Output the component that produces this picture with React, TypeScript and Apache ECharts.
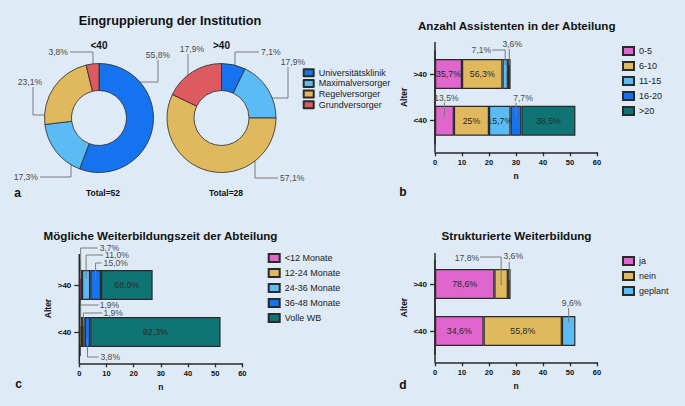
import { useEffect, useRef } from 'react';
import * as echarts from 'echarts';

const FONT = '"Liberation Sans", Arial, Helvetica, sans-serif';

// ---------- Data ----------
// Panel a
const instNames = ['Universitätsklinik', 'Maximalversorger', 'Regelversorger', 'Grundversorger'];
const instLt40 = [55.8, 17.3, 23.1, 3.8];
const instGt40 = [7.1, 17.9, 57.1, 17.9];
const instLabelsLt40 = ['55,8%', '17,3%', '23,1%', '3,8%'];
const instLabelsGt40 = ['7,1%', '17,9%', '57,1%', '17,9%'];
const pieGroups = ['<40', '>40'];
const pieTotals = ['Total=52', 'Total=28'];

const ageCats = ['<40', '>40'];
const xTickMin = 0;
const xTickMax = 60;
const xTickStep = 10;

// Panel b
const asstNames = ['0-5', '6-10', '11-15', '16-20', '>20'];
const asstLt40 = [7, 13, 8, 4, 20];
const asstGt40 = [10, 15, 2, 0, 1];
const asstLabelsLt40 = ['13,5%', '25%', '15,7%', '7,7%', '38,5%'];
const asstLabelsGt40 = ['35,7%', '56,3%', '7,1%', '', '3,6%'];

// Panel c
const wbNames = ['<12 Monate', '12-24 Monate', '24-36 Monate', '36-48 Monate', 'Volle WB'];
const wbLt40 = [0, 1, 1, 2, 48];
const wbGt40 = [1, 0, 3, 4, 19];
const wbLabelsLt40 = ['', '1,9%', '1,9%', '3,8%', '92,3%'];
const wbLabelsGt40 = ['3,7%', '', '11,0%', '15,0%', '68,0%'];

// Panel d
const swbNames = ['ja', 'nein', 'geplant'];
const swbLt40 = [18, 29, 5];
const swbGt40 = [22, 5, 1];
const swbLabelsLt40 = ['34,6%', '55,8%', '9,6%'];
const swbLabelsGt40 = ['78,6%', '17,8%', '3,6%'];

const titles = [
  'Eingruppierung der Institution',
  'Anzahl Assistenten in der Abteilung',
  'Mögliche Weiterbildungszeit der Abteilung',
  'Strukturierte Weiterbildung',
];
const panelLetters = ['a', 'b', 'c', 'd'];

// ---------- Styles / layout ----------
const PINK = '#de66cc';
const GOLD = '#e0b95e';
const LBLUE = '#5bbcf5';
const BLUE = '#1673f0';
const TEAL = '#0f7574';
const RED = '#dc5a60';
const EDGE = '#2a2a2a';
const LEAD = '#7a7a7a';
const LABEL = '#4a4a4a';
const INK = '#111';

const instColors = [BLUE, LBLUE, GOLD, RED];
const barColors5 = [PINK, GOLD, LBLUE, BLUE, TEAL];
const barColors3 = [PINK, GOLD, LBLUE];

const PIE_CENTERS = [[99, 118], [221.5, 118]];
const PIE_RADIUS = [27.5, 54.5];
const PIE_LABEL_LAYOUT = [
  [
    { pts: [[28, -36], [59, -36], [59, -58]], lab: [59, -63], align: 'center' },
    { pts: [[-28, 29], [-28, 59], [-59, 59]], lab: [-61, 59], align: 'right' },
    { pts: [[-42, -3], [-66, -3], [-66, -31]], lab: [-69, -36], align: 'center' },
    { pts: [[-6, -45], [-6, -66], [-29, -66]], lab: [-31, -66], align: 'right' },
  ],
  [
    { pts: [[13.5, -43], [13.5, -66], [37.5, -66]], lab: [39.5, -66], align: 'left' },
    { pts: [[38.5, -20], [66.5, -20], [66.5, -51]], lab: [71.5, -56], align: 'center' },
    { pts: [[33.5, 29], [33.5, 60], [56.5, 60]], lab: [58.5, 60], align: 'left' },
    { pts: [[-9.5, -41], [-33.5, -41], [-33.5, -64]], lab: [-29.5, -69], align: 'center' },
  ],
];

// Outside (leader) labels per panel: key "categoryIndex|seriesIndex"
const B_OUT = {
  '1|2': { pts: [[0, -9], [0, -24], [-13, -24]], lab: [-14, -24], align: 'right' },
  '1|4': { pts: [[0, -9], [0, -25]], lab: [3, -30], align: 'center' },
  '0|0': { pts: [[0, -4], [0, -18]], lab: [2, -23], align: 'center' },
  '0|3': { pts: [[0, -4], [0, -18]], lab: [7, -23], align: 'center' },
};
const C_OUT = {
  '1|0': { pts: [[0, -6], [0, -37], [17, -37]], lab: [19, -37], align: 'left' },
  '1|2': { pts: [[0, -6], [0, -30], [17, -30]], lab: [19, -30], align: 'left' },
  '1|3': { pts: [[0, -6], [0, -22], [6, -22]], lab: [8, -22], align: 'left' },
  '0|1': { pts: [[0, -6], [0, -27], [18, -27]], lab: [19, -27], align: 'left' },
  '0|2': { pts: [[0, -6], [0, -19], [19, -19]], lab: [20, -19], align: 'left' },
  '0|3': { pts: [[0, 6], [0, 25], [11, 25]], lab: [13, 25], align: 'left' },
};
const D_OUT = {
  '1|1': { pts: [[0, 1], [0, -27], [-21, -27]], lab: [-22, -26], align: 'right' },
  '1|2': { pts: [[0, -4], [0, -22]], lab: [4, -28], align: 'center' },
  '0|2': { pts: [[0, -8], [0, -23]], lab: [3, -28], align: 'center' },
};

const GRIDS = [
  { left: 435, right: 88, top: 50.65, bottom: 261.95, xOff: 8.25, spineTop: 42 },
  { left: 79.3, right: 442.7, top: 261.5, bottom: 50.5, xOff: 7.8, spineTop: 254 },
  { left: 435, right: 88, top: 260.5, bottom: 51.5, xOff: 7.8, spineTop: 253 },
];
const H = 406;

function txt(text: string, x: number, y: number, size: number, bold: boolean, align = 'center', color = INK) {
  return {
    type: 'text',
    x,
    y,
    silent: true,
    style: {
      text,
      font: `${bold ? 'bold ' : ''}${size}px ${FONT}`,
      fill: color,
      align,
      verticalAlign: 'middle',
      textAlign: align,
      textVerticalAlign: 'middle',
    },
  };
}

function barSeries(names: string[], lt: number[], gt: number[], labLt: string[], labGt: string[], colors: string[], gi: number, out: any) {
  return names.map((name, si) => ({
    type: 'bar',
    name,
    stack: 'g' + gi,
    xAxisIndex: gi,
    yAxisIndex: gi,
    barWidth: 30,
    itemStyle: { color: colors[si], borderColor: EDGE, borderWidth: 1.2 },
    label: { show: false, position: 'inside', color: '#2a2a2a', fontSize: 8.8, fontFamily: FONT },
    emphasis: { disabled: true },
    data: [lt[si], gt[si]].map((v, ci) => {
      const text = [labLt, labGt][ci][si];
      const inside = text !== '' && !out[`${ci}|${si}`];
      return { value: v === 0 ? '-' : v, label: { show: inside, formatter: text } };
    }),
  }));
}

function annoSeries(lt: number[], gt: number[], labLt: string[], labGt: string[], gi: number, out: any) {
  const vals = [lt, gt];
  const labs = [labLt, labGt];
  const specs: any[] = [];
  const items: number[][] = [];
  Object.keys(out).forEach((key) => {
    const [ci, si] = key.split('|').map(Number);
    const arr = vals[ci];
    const start = arr.slice(0, si).reduce((a, b) => a + b, 0);
    specs.push({ ...out[key], text: labs[ci][si] });
    items.push([start + arr[si] / 2, ci, specs.length - 1]);
  });
  return {
    type: 'custom',
    xAxisIndex: gi,
    yAxisIndex: gi,
    silent: true,
    z: 5,
    encode: { x: 0, y: 1 },
    data: items,
    renderItem: (_p: any, api: any) => {
      const spec = specs[api.value(2)];
      const p = api.coord([api.value(0), api.value(1)]);
      return {
        type: 'group',
        children: [
          {
            type: 'polyline',
            shape: { points: spec.pts.map(([dx, dy]: number[]) => [p[0] + dx, p[1] + dy]) },
            style: { stroke: LEAD, lineWidth: 1, fill: 'none' },
          },
          {
            type: 'text',
            x: p[0] + spec.lab[0],
            y: p[1] + spec.lab[1],
            style: {
              text: spec.text,
              fill: LABEL,
              font: `8.6px ${FONT}`,
              align: spec.align,
              verticalAlign: 'middle',
              textAlign: spec.align,
              textVerticalAlign: 'middle',
            },
          },
        ],
      };
    },
  };
}

function pieSeries(pi: number, vals: number[], labels: string[]) {
  const [cx, cy] = PIE_CENTERS[pi];
  const layout = PIE_LABEL_LAYOUT[pi];
  return {
    type: 'pie',
    center: [cx, cy],
    radius: PIE_RADIUS,
    startAngle: 90,
    clockwise: true,
    avoidLabelOverlap: false,
    emphasis: { disabled: true },
    itemStyle: { borderColor: EDGE, borderWidth: 0.8 },
    label: {
      show: true,
      position: 'outside',
      fontSize: 8.6,
      color: LABEL,
      fontFamily: FONT,
      formatter: (p: any) => labels[p.dataIndex],
    },
    labelLine: { show: true, length: 5, length2: 5, lineStyle: { color: LEAD, width: 1 } },
    labelLayout: (params: any) => {
      const L = layout[params.dataIndex];
      return {
        x: cx + L.lab[0],
        y: cy + L.lab[1],
        align: L.align,
        verticalAlign: 'middle',
        labelLinePoints: L.pts.map(([dx, dy]: number[]) => [cx + dx, cy + dy]),
      };
    },
    data: instNames.map((n, i) => ({ name: n, value: vals[i], itemStyle: { color: instColors[i] } })),
  };
}

function legend(data: string[], left: number, top: number, w: number, h: number, gap: number, lh: number) {
  return {
    data,
    orient: 'vertical',
    left,
    top,
    padding: 0,
    itemWidth: w,
    itemHeight: h,
    itemGap: gap,
    icon: 'rect',
    selectedMode: false,
    textStyle: { fontSize: 9, lineHeight: lh, color: '#222', fontFamily: FONT },
  };
}

export default function App() {
  const ref = useRef<HTMLDivElement>(null);
  useEffect(() => {
    if (!ref.current) return;
    const chart = echarts.init(ref.current, null, { renderer: 'svg' });

    const axisLine = { show: true, lineStyle: { color: EDGE, width: 1.5 } };
    const tickStyle = { color: EDGE, width: 1.3 };
    const nameStyle = { fontSize: 8.5, fontWeight: 'bold', color: INK, fontFamily: FONT };

    const spines = GRIDS.map((g) => ({
      type: 'line',
      silent: true,
      shape: { x1: g.left, y1: g.spineTop, x2: g.left, y2: H - g.bottom + g.xOff },
      style: { stroke: EDGE, lineWidth: 1.5 },
    }));

    const option: any = {
      animation: false,
      backgroundColor: '#deeaf6',
      textStyle: { fontFamily: FONT },
      grid: GRIDS.map((g) => ({ left: g.left, right: g.right, top: g.top, bottom: g.bottom })),
      xAxis: GRIDS.map((g, gi) => ({
        gridIndex: gi,
        type: 'value',
        min: xTickMin,
        max: xTickMax,
        interval: xTickStep,
        offset: g.xOff,
        axisLine,
        axisTick: { show: true, length: 4, lineStyle: tickStyle },
        axisLabel: { fontSize: 7.5, fontWeight: 'bold', color: INK, margin: 6, fontFamily: FONT },
        splitLine: { show: false },
        name: 'n',
        nameLocation: 'middle',
        nameGap: 19,
        nameTextStyle: nameStyle,
      })),
      yAxis: GRIDS.map((_g, gi) => ({
        gridIndex: gi,
        type: 'category',
        data: ageCats,
        axisLine,
        axisTick: { show: true, alignWithLabel: true, length: 5, lineStyle: tickStyle },
        axisLabel: { fontSize: 8, fontWeight: 'bold', color: INK, margin: 8, fontFamily: FONT },
        name: 'Alter',
        nameLocation: 'middle',
        nameRotate: 90,
        nameGap: 27,
        nameTextStyle: nameStyle,
      })),
      legend: [
        legend(instNames, 302.7, 68.2, 10, 7, 1.7, 9),
        legend(asstNames, 622, 46, 11, 8, 5, 10),
        legend(wbNames, 267.7, 253, 11, 8, 5, 10),
        legend(swbNames, 622, 256, 11, 8, 5, 10),
      ],
      series: [
        pieSeries(0, instLt40, instLabelsLt40),
        pieSeries(1, instGt40, instLabelsGt40),
        ...barSeries(asstNames, asstLt40, asstGt40, asstLabelsLt40, asstLabelsGt40, barColors5, 0, B_OUT),
        annoSeries(asstLt40, asstGt40, asstLabelsLt40, asstLabelsGt40, 0, B_OUT),
        ...barSeries(wbNames, wbLt40, wbGt40, wbLabelsLt40, wbLabelsGt40, barColors5, 1, C_OUT),
        annoSeries(wbLt40, wbGt40, wbLabelsLt40, wbLabelsGt40, 1, C_OUT),
        ...barSeries(swbNames, swbLt40, swbGt40, swbLabelsLt40, swbLabelsGt40, barColors3, 2, D_OUT),
        annoSeries(swbLt40, swbGt40, swbLabelsLt40, swbLabelsGt40, 2, D_OUT),
      ],
      graphic: [
        ...spines,
        txt(titles[0], 170, 21, 12.7, true),
        txt(titles[1], 516.7, 25, 11.6, true),
        txt(titles[2], 160.5, 235, 11.6, true),
        txt(titles[3], 516.5, 235, 11.6, true),
        txt(pieGroups[0], PIE_CENTERS[0][0], 45, 10, true),
        txt(pieGroups[1], PIE_CENTERS[1][0], 45, 10, true),
        txt(pieTotals[0], 103, 193, 8.5, true),
        txt(pieTotals[1], 226, 193, 8.5, true),
        txt(panelLetters[0], 17.5, 193, 12, true),
        txt(panelLetters[1], 403, 192, 12, true),
        txt(panelLetters[2], 18.5, 384, 12, true),
        txt(panelLetters[3], 403, 385, 12, true),
      ],
    };
    chart.setOption(option);
    return () => chart.dispose();
  }, []);
  return <div ref={ref} style={{ position: 'absolute', left: 0, top: 0, width: 685, height: 406 }} />;
}
